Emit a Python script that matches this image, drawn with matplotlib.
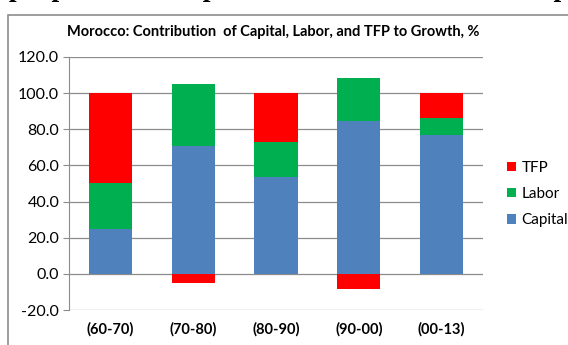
import matplotlib
matplotlib.use('Agg')
import matplotlib.pyplot as plt
import numpy as np
from matplotlib.patches import Rectangle

# data
periods = ['(60-70)', '(70-80)', '(80-90)', '(90-00)', '(00-13)']
capital = [25.0, 70.7, 53.7, 84.8, 76.8]
labor = [25.4, 34.3, 19.4, 23.7, 9.5]
tfp = [49.6, -4.8, 26.9, -8.5, 13.7]
yticks = [-20, 0, 20, 40, 60, 80, 100, 120]

plt.rcParams['font.family'] = ['Lato', 'DejaVu Sans']

fig = plt.figure(figsize=(5.68, 3.45), dpi=100)

# cut-off line of document text above the chart
fig.text(0.5, 1.012, 'sample pattern of capital accumulation and the capital',
         ha='center', va='baseline', fontsize=20, fontweight='bold',
         family='Liberation Serif', color='black')

# chart frame
fig.patches.append(Rectangle((8 / 568, -0.1), 1.2, 1 - 15 / 345 + 0.1,
                             transform=fig.transFigure, fill=False,
                             edgecolor='#8c8c8c', lw=1.2, zorder=-1))

ax = fig.add_axes([69 / 568, 1 - 310 / 345, (483 - 69) / 568, (310 - 57) / 345])
x = np.arange(len(periods))
w = 0.52

cap = np.array(capital)
lab = np.array(labor)
tf = np.array(tfp)

ax.bar(x, cap, w, color='#4F81BD', label='Capital', zorder=3)
ax.bar(x, lab, w, bottom=cap, color='#00B050', label='Labor', zorder=3)
# negative TFP goes below zero
tfp_bottom = np.where(tf >= 0, cap + lab, 0)
ax.bar(x, tf, w, bottom=tfp_bottom, color='#FF0000', label='TFP', zorder=3)

ax.set_ylim(-20, 120)
ax.set_xlim(-0.5, len(periods) - 0.5)
ax.set_yticks(yticks)
ax.set_yticklabels(['%.1f' % v for v in yticks], fontsize=11.5)
ax.set_xticks(x)
ax.set_xticklabels(periods, fontsize=10.5, fontweight='bold')
ax.tick_params(axis='x', length=0, pad=9)
ax.tick_params(axis='y', length=4, color='#8c8c8c', pad=3)
ax.grid(axis='y', color='#8c8c8c', lw=0.9, zorder=0)
for s in ['top', 'right', 'bottom']:
    ax.spines[s].set_visible(False)
ax.spines['left'].set_color('#8c8c8c')
ax.set_facecolor('none')

fig.text(273 / 568, 1 - 32 / 345, 'Morocco: Contribution  of Capital, Labor, and TFP to Growth, %',
         ha='center', va='center', fontsize=10.5, fontweight='bold')

h, l = ax.get_legend_handles_labels()
fig.legend(h[::-1], l[::-1], loc='center left', bbox_to_anchor=(507 / 568, 1 - 194 / 345),
           frameon=False, fontsize=11, handlelength=0.6, handleheight=0.6,
           handletextpad=0.35, labelspacing=0.8, borderpad=0, borderaxespad=0)

fig.savefig('out.png', dpi=100)
